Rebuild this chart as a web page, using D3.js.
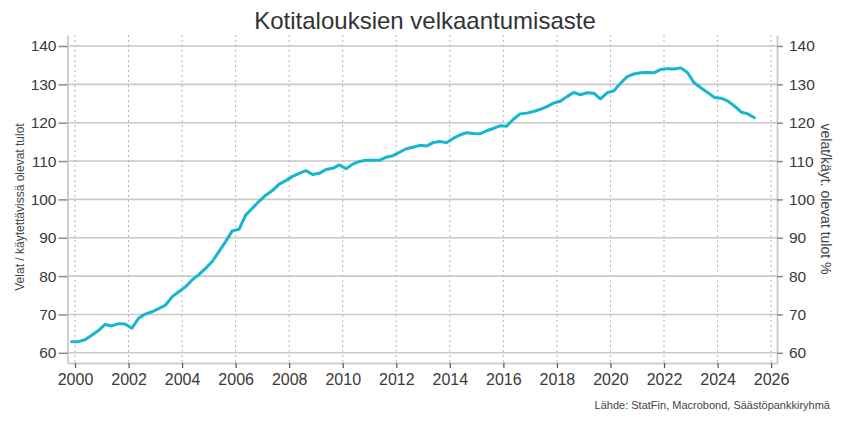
<!DOCTYPE html>
<html>
<head>
<meta charset="utf-8">
<script src="https://cdn.jsdelivr.net/npm/d3@7"></script>
<style>
  html, body { margin: 0; padding: 0; background: #fff; }
  svg { display: block; font-family: "Liberation Sans", Arial, sans-serif; }
</style>
</head>
<body>
<svg id="chart" width="853" height="430"></svg>
<script>
// ---- data ----
const titleText = "Kotitalouksien velkaantumisaste";
const leftLabel = "Velat / käytettävissä olevat tulot";
const rightLabel = "velat/käyt. olevat tulot %";
const sourceText = "Lähde: StatFin, Macrobond, Säästöpankkiryhmä";

const firstYear = 1999;      // first observation: 1999 Q4
const firstQuarter = 4;
const debtRatio = [
  62.9, 62.9, 63.4, 64.6, 65.8, 67.4, 67.0, 67.6, 67.5, 66.4,
  69.0, 70.1, 70.7, 71.5, 72.4, 74.6, 75.9, 77.2, 79.0, 80.4,
  82.0, 83.8, 86.4, 89.0, 91.8, 92.2, 95.9, 97.7, 99.5, 101.1,
  102.3, 104.0, 104.9, 106.0, 106.8, 107.5, 106.5, 106.8, 107.8, 108.1,
  109.0, 108.0, 109.2, 109.9, 110.2, 110.2, 110.2, 111.0, 111.4, 112.3,
  113.2, 113.6, 114.1, 113.9, 114.8, 115.1, 114.8, 115.9, 116.8, 117.4,
  117.2, 117.1, 117.9, 118.5, 119.2, 119.1, 120.9, 122.3, 122.5, 122.9,
  123.5, 124.2, 125.1, 125.6, 126.8, 127.9, 127.3, 127.8, 127.7, 126.2,
  127.8, 128.3, 130.3, 132.0, 132.7, 133.0, 133.1, 133.0, 133.9, 134.1,
  134.0, 134.3, 133.1, 130.4, 129.1, 127.9, 126.6, 126.4, 125.7, 124.4,
  122.8, 122.3, 121.3
];
const yTicks = [60, 70, 80, 90, 100, 110, 120, 130, 140];
const xTicks = [2000, 2002, 2004, 2006, 2008, 2010, 2012, 2014, 2016, 2018, 2020, 2022, 2024, 2026];

// quarter mid-points as decimal years
const series = debtRatio.map((v, i) => {
  const qIndex = (firstQuarter - 1) + i;
  const year = firstYear + Math.floor(qIndex / 4);
  const q = qIndex % 4;
  return { t: year + (q + 0.5) / 4, v: v };
});

// ---- layout ----
const svg = d3.select("#chart");
const plot = { left: 67.5, right: 777, top: 35, bottom: 363 };

const x = d3.scaleLinear().domain([1999.72, 2026.22]).range([plot.left, plot.right]);
const y = d3.scaleLinear().domain([57.34, 142.87]).range([plot.bottom, plot.top]);

const textColor = "#3a3a3a";

// horizontal gridlines
svg.append("g").selectAll("line").data(yTicks).join("line")
  .attr("x1", plot.left).attr("x2", plot.right)
  .attr("y1", d => y(d)).attr("y2", d => y(d))
  .attr("stroke", "#c9c9c9").attr("stroke-width", 1.6);

// vertical dotted gridlines
svg.append("g").selectAll("line").data(xTicks).join("line")
  .attr("x1", d => x(d)).attr("x2", d => x(d))
  .attr("y1", plot.top).attr("y2", plot.bottom)
  .attr("stroke", "#b5b5b5").attr("stroke-width", 1)
  .attr("stroke-dasharray", "2,3");

// left axis
const gl = svg.append("g").attr("transform", `translate(${plot.left},0)`)
  .call(d3.axisLeft(y).tickValues(yTicks).tickSize(9).tickSizeOuter(0).tickPadding(2));
gl.select(".domain").attr("stroke", "#cfcfcf").attr("stroke-width", 2);
gl.selectAll(".tick line").attr("stroke", "#8a8a8a").attr("stroke-width", 1.5);
gl.selectAll(".tick text").attr("fill", textColor).style("font-size", "15.5px");

// right axis
const gr = svg.append("g").attr("transform", `translate(${plot.right},0)`)
  .call(d3.axisRight(y).tickValues(yTicks).tickSize(6).tickSizeOuter(0).tickPadding(6));
gr.select(".domain").attr("stroke", "#cfcfcf").attr("stroke-width", 2);
gr.selectAll(".tick line").attr("stroke", "#8a8a8a").attr("stroke-width", 1.5);
gr.selectAll(".tick text").attr("fill", textColor).style("font-size", "15.5px");

// bottom axis
const gb = svg.append("g").attr("transform", `translate(0,${plot.bottom})`)
  .call(d3.axisBottom(x).tickValues(xTicks).tickFormat(d3.format("d")).tickSize(5).tickSizeOuter(0).tickPadding(6));
gb.select(".domain").attr("stroke", "#cfcfcf").attr("stroke-width", 2);
gb.selectAll(".tick line").attr("stroke", "#555").attr("stroke-width", 1.2);
gb.selectAll(".tick text").attr("fill", textColor).style("font-size", "16px");

// line
const line = d3.line().x(d => x(d.t)).y(d => y(d.v));
svg.append("path").datum(series)
  .attr("d", line)
  .attr("fill", "none")
  .attr("stroke", "#16b6d1")
  .attr("stroke-width", 3)
  .attr("stroke-linejoin", "round")
  .attr("stroke-linecap", "round");

// title
svg.append("text")
  .attr("x", 425).attr("y", 29)
  .attr("text-anchor", "middle")
  .attr("fill", "#333")
  .style("font-size", "24px")
  .text(titleText);

// left y label
svg.append("text")
  .attr("transform", `translate(24,207) rotate(-90)`)
  .attr("text-anchor", "middle")
  .attr("fill", "#444")
  .style("font-size", "12px")
  .text(leftLabel);

// right y label
svg.append("text")
  .attr("transform", `translate(821,${(plot.top + plot.bottom) / 2}) rotate(90)`)
  .attr("text-anchor", "middle")
  .attr("fill", "#444")
  .style("font-size", "14px")
  .text(rightLabel);

// source
svg.append("text")
  .attr("x", 830).attr("y", 409)
  .attr("text-anchor", "end")
  .attr("fill", "#444")
  .style("font-size", "11px")
  .text(sourceText);
</script>
</body>
</html>
